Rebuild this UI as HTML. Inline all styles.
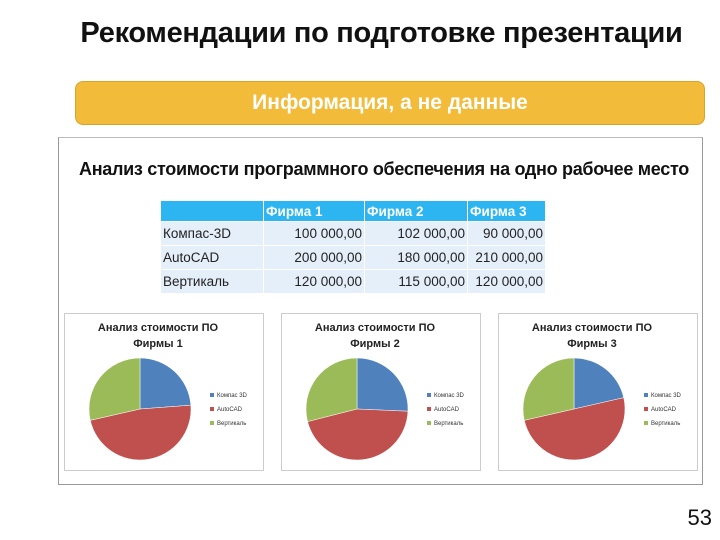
<!DOCTYPE html>
<html><head><meta charset="utf-8"><style>
body{margin:0;width:720px;height:540px;background:#fff;position:relative;overflow:hidden;font-family:"Liberation Sans","DejaVu Sans",sans-serif}
.abs{position:absolute}
#title{left:0;width:763px;top:17px;text-align:center;font-size:29px;font-weight:bold;color:#111;letter-spacing:-0.3px}
#banner{left:75px;top:81px;width:628px;height:42px;background:#f2bb3a;border:1px solid #d9a22a;border-radius:8px;text-align:center;color:#fff;font-size:21px;font-weight:bold;line-height:42px}
#box{left:58px;top:137px;width:643px;height:346px;border:1px solid #999;border-top:1px solid #bbb}
#sub{left:44px;width:680px;top:159px;text-align:center;font-size:18px;font-weight:bold;color:#111;letter-spacing:-0.3px;white-space:nowrap}
table{position:absolute;left:160px;top:200px;border-collapse:collapse;font-size:13.5px;color:#222;table-layout:fixed;width:385px}
td{height:23px;padding:0 2px;border:1px solid #fff;white-space:nowrap;overflow:visible}
tr.h td{background:#2cb5f0;color:#fff;font-weight:bold;height:20px;text-align:left}
tr.r td{background:#e5effa;text-align:right}
tr.r td:first-child{text-align:left}
.frame{position:absolute;top:313px;width:198px;height:156px;border:1px solid #ccc}
</style></head><body>
<div id="title" class="abs">Рекомендации по подготовке презентации</div>
<div id="banner" class="abs">Информация, а не данные</div>
<div id="box" class="abs"></div>
<div id="sub" class="abs">Анализ стоимости программного обеспечения на одно рабочее место</div>
<table>
<colgroup><col style="width:103px"><col style="width:101px"><col style="width:103px"><col style="width:78px"></colgroup>
<tr class="h"><td></td><td>Фирма 1</td><td>Фирма 2</td><td>Фирма 3</td></tr>
<tr class="r"><td>Компас-3D</td><td>100 000,00</td><td>102 000,00</td><td>90 000,00</td></tr>
<tr class="r"><td>AutoCAD</td><td>200 000,00</td><td>180 000,00</td><td>210 000,00</td></tr>
<tr class="r"><td>Вертикаль</td><td>120 000,00</td><td>115 000,00</td><td>120 000,00</td></tr>
</table>
<div class="frame" style="left:64px"></div>
<div class="frame" style="left:281px"></div>
<div class="frame" style="left:498px"></div>
<svg id="pies" class="abs" style="left:0;top:0" width="720" height="540"></svg>
<div class="abs" style="right:8px;top:505px;font-size:22px;color:#111">53</div>
<script>
const categories=["Компас 3D","AutoCAD","Вертикаль"];
const firm1=[100000,200000,120000];
const firm2=[102000,180000,115000];
const firm3=[90000,210000,120000];
const firmTitles=["Фирмы 1","Фирмы 2","Фирмы 3"];
const colors=["#4f81bd","#c0504d","#9bbb59"];
const NS="http://www.w3.org/2000/svg";
const svg=document.getElementById('pies');
const series=[firm1,firm2,firm3];
const lefts=[64,281,498];
function mk(t,a){const e=document.createElementNS(NS,t);for(const k in a)e.setAttribute(k,a[k]);svg.appendChild(e);return e;}
series.forEach((vals,i)=>{
  const L=lefts[i],cx=L+76,cy=409,r=51;
  let t=mk('text',{x:L+94,y:331,'text-anchor':'middle','font-size':'11','font-weight':'bold',fill:'#222'});
  
  
  t.textContent='Анализ стоимости ПО';
  let t2=mk('text',{x:L+94,y:347,'text-anchor':'middle','font-size':'11','font-weight':'bold',fill:'#222'});
  
  
  t2.textContent=firmTitles[i];
  const sum=vals.reduce((a,b)=>a+b,0);
  let a0=-Math.PI/2;
  vals.forEach((v,j)=>{
    const a1=a0+v/sum*2*Math.PI;
    const x0=cx+r*Math.cos(a0),y0=cy+r*Math.sin(a0),x1=cx+r*Math.cos(a1),y1=cy+r*Math.sin(a1);
    const large=(a1-a0)>Math.PI?1:0;
    const p=mk('path',{d:`M${cx},${cy}L${x0},${y0}A${r},${r} 0 ${large} 1 ${x1},${y1}Z`,fill:colors[j],stroke:'#fff','stroke-width':'0.5'});
    
    
    a0=a1;
  });
  categories.forEach((c,j)=>{
    const y=397+j*14;
    const s=mk('rect',{x:L+146,y:y-4,width:4,height:4,fill:colors[j]});
    
    
    const lt=mk('text',{x:L+153,y:y,'font-size':'6',fill:'#333'});
    
    
    lt.textContent=c;
  });
});
</script>
</body></html>
